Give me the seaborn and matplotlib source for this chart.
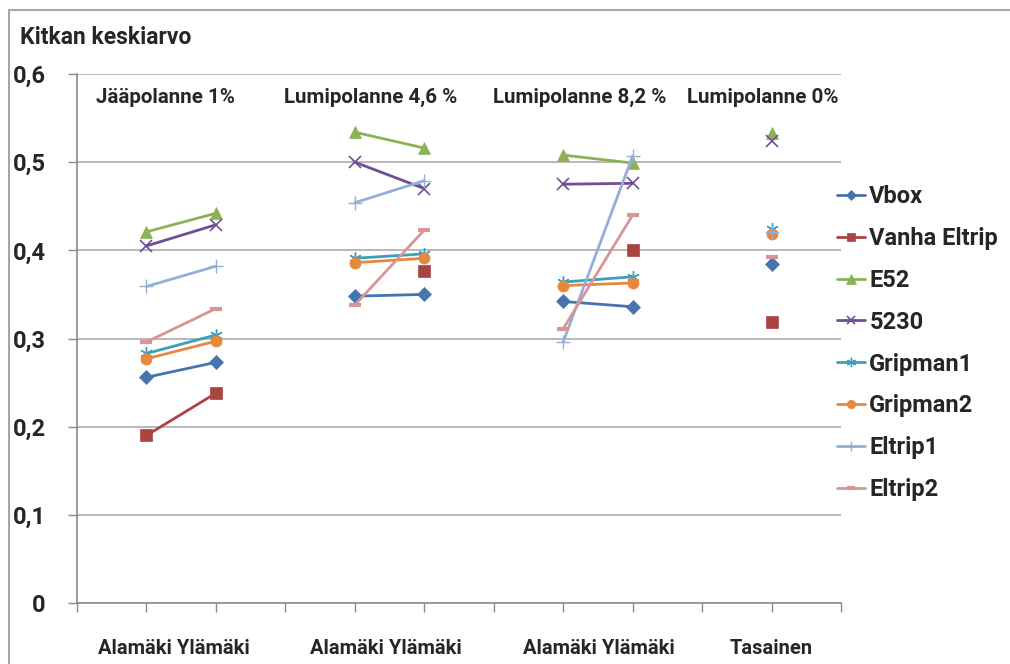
import numpy as np
import pandas as pd
import matplotlib
matplotlib.use("Agg")
import matplotlib.pyplot as plt
from matplotlib.lines import Line2D
from matplotlib.ticker import FixedLocator, FuncFormatter
import seaborn as sns

# category slots on the x axis (Excel-style, points on tick marks)
x_pos = [1, 2, 4, 5, 7, 8, 10]
segment = [0, 0, 1, 1, 2, 2, 3]
group_titles = ["Jääpolanne 1%", "Lumipolanne 4,6 %", "Lumipolanne 8,2 %", "Lumipolanne 0%"]
x_labels = ["Alamäki Ylämäki", "Alamäki Ylämäki", "Alamäki Ylämäki", "Tasainen"]

nan = np.nan
vbox = [0.256, 0.273, 0.348, 0.350, 0.342, 0.336, 0.385]
vanha_eltrip = [0.190, 0.238, nan, 0.377, nan, 0.400, 0.319]
e52 = [0.421, 0.442, 0.534, 0.516, 0.508, 0.499, 0.533]
s5230 = [0.405, 0.429, 0.500, 0.470, 0.475, 0.476, 0.524]
gripman1 = [0.283, 0.304, 0.391, 0.396, 0.364, 0.370, 0.424]
gripman2 = [0.277, 0.297, 0.386, 0.391, 0.360, 0.363, 0.418]
eltrip1 = [0.359, 0.382, 0.454, 0.479, 0.296, 0.507, 0.421]
eltrip2 = [0.296, 0.334, 0.338, 0.423, 0.311, 0.440, 0.392]

series = {
    "Vbox": vbox,
    "Vanha Eltrip": vanha_eltrip,
    "E52": e52,
    "5230": s5230,
    "Gripman1": gripman1,
    "Gripman2": gripman2,
    "Eltrip1": eltrip1,
    "Eltrip2": eltrip2,
}

# name: (color, marker, markersize, markeredgewidth)
styles = {
    "Vbox": ("#4674AF", "D", 7, 0.5),
    "Vanha Eltrip": ("#A94442", "s", 8, 0.5),
    "E52": ("#8DB255", "^", 9, 0.5),
    "5230": ("#6E4F96", "x", 8, 1.2),
    "Gripman1": ("#3CA0B9", (6, 2, 0), 9, 1.0),
    "Gripman2": ("#E6893E", "o", 8, 0.5),
    "Eltrip1": ("#93AFD9", "+", 10, 1.0),
    "Eltrip2": ("#D89593", "_", 8, 3.0),
}

rows = []
for name, vals in series.items():
    for x, s, v in zip(x_pos, segment, vals):
        rows.append({"x": x, "seg": s, "value": v, "series": name})
df = pd.DataFrame(rows).dropna()

sns.set_style("white")
plt.rcParams["font.family"] = ["Roboto", "DejaVu Sans"]
plt.rcParams["font.weight"] = "bold"

fig = plt.figure(figsize=(10.10, 6.64), dpi=100)
ax = fig.add_axes([77 / 1010, 1 - 603 / 664, 764 / 1010, 529 / 664])

handles = []
for name in series:
    color, marker, ms, mew = styles[name]
    sub = df[df["series"] == name]
    sns.lineplot(data=sub, x="x", y="value", units="seg", estimator=None,
                 color=color, linewidth=2.0, marker=marker, markersize=ms,
                 markeredgewidth=mew, markeredgecolor=color,
                 markerfacecolor=color, ax=ax, legend=False)
    handles.append(Line2D([], [], color=color, linewidth=2.0, marker=marker,
                          markersize=ms * 0.75, markeredgewidth=mew,
                          markeredgecolor=color, markerfacecolor=color, label=name))

ax.set_xlim(0, 11)
ax.set_ylim(0, 0.6)
ax.set_xlabel("")
ax.set_ylabel("")

# y axis
ax.set_yticks(np.arange(0, 0.61, 0.1))
ax.yaxis.set_major_formatter(FuncFormatter(lambda v, p: f"{v:.1f}".replace(".", ",").replace("0,0", "0")))
ax.tick_params(axis="y", left=True, length=6.5, width=1, color="#8C8C8C", direction="out",
               pad=16, labelsize=17)
ax.grid(axis="y", color="#ABABAB", linewidth=1.2)
ax.set_axisbelow(True)

# x axis: tick marks on every slot, labels as minor ticks
ax.xaxis.remove_overlapping_locs = False
ax.xaxis.set_major_locator(FixedLocator(np.arange(0, 12)))
ax.set_xticklabels([""] * 12)
ax.xaxis.set_minor_locator(FixedLocator([1.4, 4.45, 7.52, 10.0]))
ax.set_xticklabels(x_labels, minor=True)
ax.tick_params(axis="x", which="major", bottom=True, length=6.5, width=1, color="#8C8C8C",
               direction="out")
ax.tick_params(axis="x", which="minor", bottom=True, length=0, pad=26, labelsize=14.5)

for side in ["top", "right"]:
    ax.spines[side].set_visible(False)
for side in ["left", "bottom"]:
    ax.spines[side].set_color("#8C8C8C")
    ax.spines[side].set_linewidth(1.2)
for lbl in ax.get_xticklabels(minor=True) + ax.get_yticklabels():
    lbl.set_fontweight("bold")

# group titles
for xt, t in zip([1.28, 4.23, 7.24, 9.88], group_titles):
    ax.text(xt, 0.573, t, ha="center", va="center", fontsize=14.8, fontweight="bold")

fig.text(20 / 1010, 1 - 38 / 664, "Kitkan keskiarvo", ha="left", va="center",
         fontsize=16.5, fontweight="bold")

fig.legend(handles=handles, loc="upper left", bbox_to_anchor=(837 / 1010, 1 - 185 / 664),
           frameon=False, prop={"size": 17, "weight": "bold"}, handlelength=1.2,
           handletextpad=0.17, labelspacing=0.80, borderpad=0, borderaxespad=0)

# chart area border
fig.add_artist(Line2D([9 / 1010, 9 / 1010], [0, 1 - 10 / 664], color="#A6A6A6", linewidth=1.5))
fig.add_artist(Line2D([9 / 1010, 1], [1 - 10 / 664, 1 - 10 / 664], color="#A6A6A6", linewidth=1.5))

fig.savefig("out.png", dpi=100)
